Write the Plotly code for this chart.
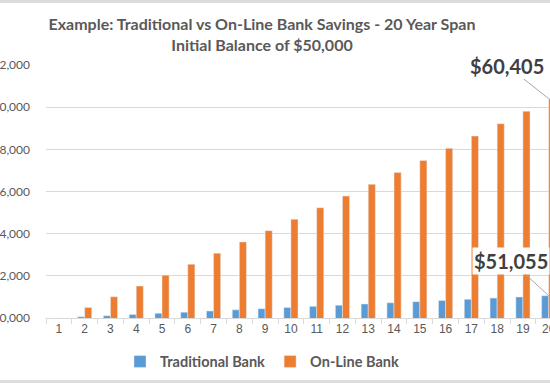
import plotly.graph_objects as go

years = [str(y) for y in range(1, 21)]
traditional = [50000, 50055, 50110, 50165, 50220, 50276, 50331, 50386, 50442, 50497,
               50553, 50608, 50664, 50720, 50776, 50832, 50888, 50944, 51000, 51055]
online = [50000, 50500, 51005, 51515, 52030, 52551, 53076, 53607, 54143, 54684,
          55231, 55783, 56341, 56905, 57474, 58048, 58629, 59215, 59807, 60405]
y_ticks = [50000, 52000, 54000, 56000, 58000, 60000, 62000]

title_text = "Example: Traditional vs On-Line Bank Savings - 20 Year Span<br>Initial Balance of $50,000"

BLUE = "#5B9BD5"
ORANGE = "#ED7D31"
GREY = "#595959"
GRID = "#d9d9d9"

W, H = 550, 383
ML, MR, MT, MB = 46, 0, 65, 65
plot_h = H - MT - MB

fig = go.Figure()
fig.add_trace(go.Bar(x=years, y=traditional, name="Traditional Bank", marker_color=BLUE))
fig.add_trace(go.Bar(x=years, y=online, name="On-Line Bank", marker_color=ORANGE))

fig.update_layout(
    width=W, height=H,
    margin=dict(l=ML, r=MR, t=MT, b=MB, autoexpand=False),
    paper_bgcolor="white", plot_bgcolor="white",
    barmode="group", bargap=0.45, bargroupgap=0,
    font=dict(family="Lato", color=GREY, size=12),
    title=dict(text=title_text, x=262 / W, xref="container", xanchor="center",
               y=1 - 30 / H, yref="container", yanchor="middle",
               font=dict(family="Lato", size=16, color=GREY, weight="bold")),
    showlegend=True,
    legend=dict(orientation="h", xanchor="center", x=(262 - ML) / (W - ML - MR),
                yanchor="middle", y=-43.5 / plot_h,
                font=dict(family="Lato", size=14.5, color=GREY, weight="bold"),
                itemwidth=30, traceorder="normal"),
)

fig.update_xaxes(type="category", range=[-0.5, 19.05],
                 showgrid=False, showline=True, linecolor=GRID, linewidth=1,
                 ticks="outside", tickson="boundaries", ticklen=5, tickcolor=GRID,
                 tickfont=dict(family="Liberation Sans", size=12, color=GREY),
                 zeroline=False, fixedrange=True)
fig.update_yaxes(range=[y_ticks[0], y_ticks[-1]], tickmode="array", tickvals=y_ticks,
                 tickformat="$,.0f", showgrid=True, gridcolor=GRID, gridwidth=1,
                 showline=False, zeroline=False, ticklabelstandoff=15, fixedrange=True,
                 tickfont=dict(family="Lato", size=12, color=GREY))

last = len(years) - 1  # category index of the final year
fig.add_annotation(x=last, y=online[-1], xref="x", yref="y",
                   text=f"${online[-1]:,}", showarrow=True, arrowhead=0,
                   arrowwidth=1, arrowcolor="#a6a6a6", ax=-42, ay=-33,
                   bgcolor="white", font=dict(family="Lato", size=20, color="#404040", weight="bold"))
fig.add_annotation(x=last, y=traditional[-1], xref="x", yref="y",
                   text=f"${traditional[-1]:,}", showarrow=True, arrowhead=0,
                   arrowwidth=1, arrowcolor="#a6a6a6", ax=-38, ay=-35,
                   bgcolor="white", font=dict(family="Lato", size=20, color="#404040", weight="bold"))

# screenshot border strips
top_y = 1 + MT / plot_h
fig.add_shape(type="rect", xref="paper", yref="paper", x0=-ML / (W - ML), x1=1,
              y0=top_y - 3 / plot_h, y1=top_y, fillcolor="#dcdcdc", line_width=0, layer="above")
bot_y = -MB / plot_h
fig.add_shape(type="rect", xref="paper", yref="paper", x0=-ML / (W - ML), x1=1,
              y0=bot_y, y1=bot_y + 3 / plot_h, fillcolor="#dcdcdc", line_width=0, layer="above")

fig.write_html("out.html", config={"displayModeBar": False},
               post_script="document.body.style.margin='0';")
